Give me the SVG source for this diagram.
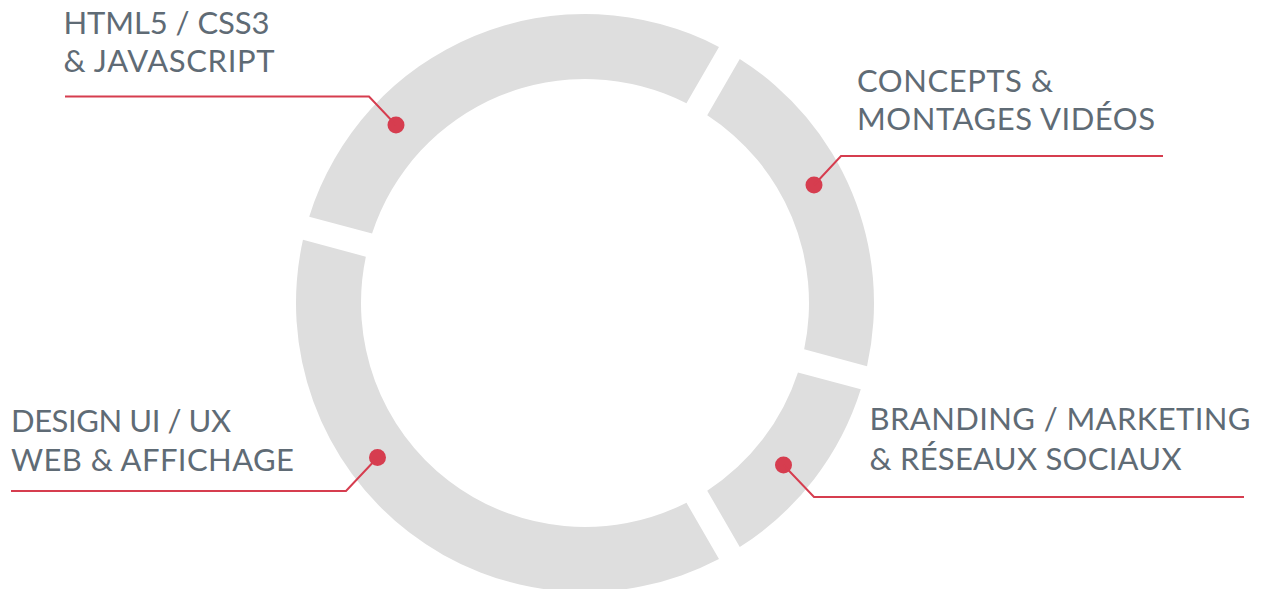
<svg xmlns="http://www.w3.org/2000/svg" width="1268" height="589" viewBox="0 0 1268 589">
<style>
.seg{fill:#dedede;}
.lbl{font-family:Lato,"Open Sans","Liberation Sans",sans-serif;font-size:31px;font-weight:400;fill:#5f6b75;}
.con{fill:none;stroke:#d63d4f;stroke-width:2;}
.dot{fill:#d63d4f;}
</style>
<rect width="1268" height="589" fill="#ffffff"/>
<g id="node-html">
<path class="seg" d="M 309.20 216.67 A 289 289 0 0 1 718.98 46.93 L 686.45 103.29 A 224 224 0 0 0 372.05 233.52 Z"/>
<text class="lbl" x="63.5" y="33.5" textLength="206" lengthAdjust="spacing">HTML5 / CSS3</text>
<text class="lbl" x="63.5" y="72" textLength="211" lengthAdjust="spacing">&amp; JAVASCRIPT</text>
<circle class="dot" cx="396" cy="125" r="8.5"/>
</g>
<g id="node-concepts">
<path class="seg" d="M 739.77 58.94 A 289 289 0 0 1 867.02 366.14 L 804.16 349.31 A 224 224 0 0 0 707.23 115.29 Z"/>
<text class="lbl" x="857" y="92" textLength="196" lengthAdjust="spacing">CONCEPTS &amp;</text>
<text class="lbl" x="857" y="130" textLength="298" lengthAdjust="spacing">MONTAGES VIDÉOS</text>
<circle class="dot" cx="814" cy="185" r="8.5"/>
</g>
<g id="node-branding">
<path class="seg" d="M 860.80 389.33 A 289 289 0 0 1 739.77 547.06 L 707.23 490.71 A 224 224 0 0 0 797.95 372.48 Z"/>
<text class="lbl" x="869.5" y="430" textLength="381" lengthAdjust="spacing">BRANDING / MARKETING</text>
<text class="lbl" x="869.5" y="470" textLength="312" lengthAdjust="spacing">&amp; RÉSEAUX SOCIAUX</text>
<circle class="dot" cx="783.5" cy="465" r="8.5"/>
</g>
<g id="node-design">
<path class="seg" d="M 718.98 559.07 A 289 289 0 0 1 302.98 239.86 L 365.84 256.69 A 224 224 0 0 0 686.45 502.71 Z"/>
<text class="lbl" x="11" y="432" textLength="220" lengthAdjust="spacing">DESIGN UI / UX</text>
<text class="lbl" x="11" y="471" textLength="283" lengthAdjust="spacing">WEB &amp; AFFICHAGE</text>
<circle class="dot" cx="377.5" cy="457.5" r="8.5"/>
</g>
<g id="connectors">
<polyline class="con" points="65,96.5 369,96.5 396,125"/>
<polyline class="con" points="1163,156 841,156 814,185"/>
<polyline class="con" points="11,491 346,491 377.5,457.5"/>
<polyline class="con" points="1244,497 814,497 783.5,465"/>
</g>
</svg>
